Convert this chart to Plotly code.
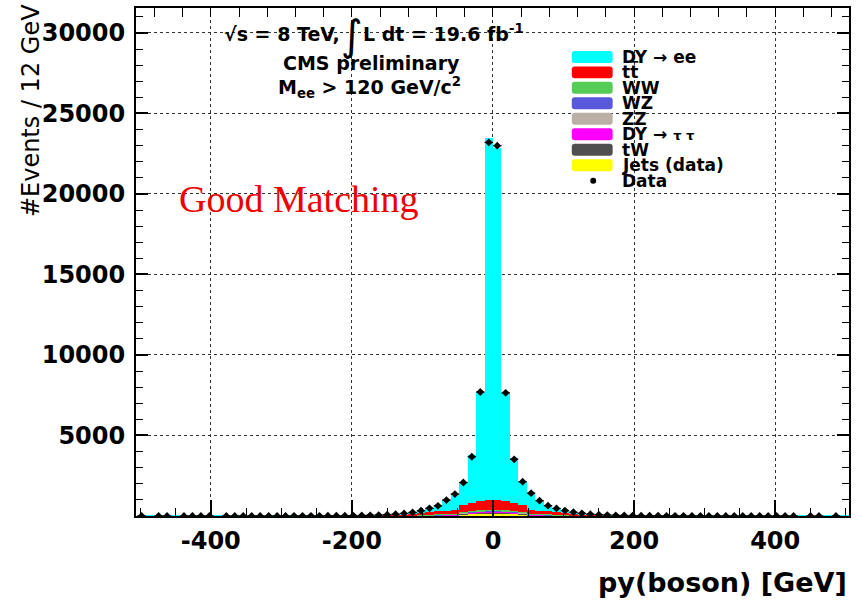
import plotly.graph_objects as go

# ---------------- data (12 GeV bins from -504 to 504) ----------------
BIN_START = -504
BIN_WIDTH = 12

DATA = [2, 0, 3, 2, 0, 3, 2, 4, 3, 0, 4, 3,
        5, 4, 5, 6, 5, 7, 8, 9, 11, 13,
        15, 18, 22, 27, 34, 44, 58, 80, 110, 160,
        225, 330, 475, 630, 990, 1360, 2080, 3680, 7700, 23200,
        23000, 7650, 3520, 2130, 1420, 950, 640, 470, 340, 235,
        165, 115, 82, 60, 45, 35, 27, 22, 18, 15,
        12, 10, 9, 8, 7, 6, 5, 5, 4, 4,
        3, 4, 3, 2, 3, 2, 0, 3, 2, 0, 2, 0]

DY_EE = [1, 1, 2, 2, 2, 2, 2, 3, 3, 2, 3, 3,
         4, 3, 4, 4, 3, 4, 5, 5, 6, 7,
         6, 7, 7, 6, 6, 5, 10, 17, 30, 55,
         73, 124, 221, 352, 661, 978, 1418, 2956, 6755, 22433,
         21830, 6705, 2776, 1468, 1018, 621, 342, 211, 129, 80,
         60, 33, 19, 12, 6, 7, 6, 7, 7, 6,
         6, 5, 5, 5, 4, 4, 3, 4, 3, 3,
         3, 3, 3, 2, 2, 2, 2, 2, 1, 1, 1, 1]

TTBAR = [0, 0, 0, 0, 0, 0, 0, 0, 0, 0, 0, 0,
         1, 1, 1, 2, 2, 3, 3, 4, 5, 6,
         8, 10, 12, 16, 20, 26, 33, 42, 55, 70,
         110, 150, 180, 200, 220, 260, 430, 520, 600, 650,
         650, 600, 520, 430, 260, 220, 200, 180, 150, 110,
         70, 55, 42, 33, 26, 20, 16, 12, 10, 8,
         6, 5, 4, 3, 3, 2, 2, 1, 1, 1,
         0, 0, 0, 0, 0, 0, 0, 0, 0, 0, 0, 0]

WW = [0, 0, 0, 0, 0, 0, 0, 0, 0, 0, 0, 0,
      0, 0, 0, 0, 0, 0, 0, 0, 0, 0,
      1, 1, 2, 2, 3, 4, 5, 6, 8, 10,
      13, 17, 21, 25, 30, 35, 40, 44, 48, 50,
      50, 48, 44, 40, 35, 30, 25, 21, 17, 13,
      10, 8, 6, 5, 4, 3, 2, 2, 1, 1,
      0, 0, 0, 0, 0, 0, 0, 0, 0, 0,
      0, 0, 0, 0, 0, 0, 0, 0, 0, 0, 0, 0]

WZ = [0, 0, 0, 0, 0, 0, 0, 0, 0, 0, 0, 0,
      0, 0, 0, 0, 0, 0, 0, 0, 0, 0,
      0, 0, 0, 1, 1, 2, 2, 3, 4, 5,
      6, 8, 10, 12, 14, 16, 18, 21, 23, 25,
      25, 23, 21, 18, 16, 14, 12, 10, 8, 6,
      5, 4, 3, 2, 2, 1, 1, 0, 0, 0,
      0, 0, 0, 0, 0, 0, 0, 0, 0, 0,
      0, 0, 0, 0, 0, 0, 0, 0, 0, 0, 0, 0]

ZZ = [0, 0, 0, 0, 0, 0, 0, 0, 0, 0, 0, 0,
      0, 0, 0, 0, 0, 0, 0, 0, 0, 0,
      0, 0, 0, 0, 0, 1, 1, 2, 2, 3,
      3, 4, 5, 6, 7, 8, 9, 10, 11, 12,
      12, 11, 10, 9, 8, 7, 6, 5, 4, 3,
      3, 2, 2, 1, 1, 0, 0, 0, 0, 0,
      0, 0, 0, 0, 0, 0, 0, 0, 0, 0,
      0, 0, 0, 0, 0, 0, 0, 0, 0, 0, 0, 0]

DY_TAUTAU = [0, 0, 0, 0, 0, 0, 0, 0, 0, 0, 0, 0,
             0, 0, 0, 0, 0, 0, 0, 0, 0, 0,
             0, 0, 0, 0, 1, 2, 2, 3, 4, 6,
             8, 11, 14, 18, 22, 28, 35, 45, 55, 60,
             60, 55, 45, 35, 28, 22, 18, 14, 11, 8,
             6, 4, 3, 2, 2, 1, 0, 0, 0, 0,
             0, 0, 0, 0, 0, 0, 0, 0, 0, 0,
             0, 0, 0, 0, 0, 0, 0, 0, 0, 0, 0, 0]

TW = [0, 0, 0, 0, 0, 0, 0, 0, 0, 0, 0, 0,
      0, 0, 0, 0, 0, 0, 0, 0, 0, 0,
      0, 0, 1, 1, 2, 2, 3, 4, 5, 6,
      8, 11, 14, 17, 21, 25, 30, 34, 38, 40,
      40, 38, 34, 30, 25, 21, 17, 14, 11, 8,
      6, 5, 4, 3, 2, 2, 1, 1, 0, 0,
      0, 0, 0, 0, 0, 0, 0, 0, 0, 0,
      0, 0, 0, 0, 0, 0, 0, 0, 0, 0, 0, 0]

JETS = [0, 0, 0, 0, 0, 0, 0, 0, 0, 0, 0, 0,
        0, 0, 0, 0, 0, 0, 0, 0, 0, 0,
        0, 0, 0, 1, 1, 2, 2, 3, 4, 5,
        7, 10, 15, 20, 25, 30, 120, 150, 170, 180,
        180, 170, 150, 120, 30, 25, 20, 15, 10, 7,
        5, 4, 3, 2, 2, 1, 1, 0, 0, 0,
        0, 0, 0, 0, 0, 0, 0, 0, 0, 0,
        0, 0, 0, 0, 0, 0, 0, 0, 0, 0, 0, 0]

LEGEND_NAMES = ["DY \u2192 ee", "t<span style='text-decoration:overline'>t</span>",
                "WW", "WZ", "ZZ",
                "DY \u2192 <span style='font-size:13px'>\u03c4 \u03c4</span>",
                "tW", "Jets (data)"]
LEGEND_COLORS = ["#00FFFF", "#FF0000", "#55CC55", "#5858DA", "#BBB0A6",
                 "#FF00FF", "#4F4F4F", "#FFFF00"]
# stack, bottom to top
STACK = [("Jets (data)", JETS, "#FFFF00"),
         ("tW", TW, "#4F4F4F"),
         ("DY \u2192 \u03c4\u03c4", DY_TAUTAU, "#FF00FF"),
         ("ZZ", ZZ, "#BBB0A6"),
         ("WZ", WZ, "#5858DA"),
         ("WW", WW, "#55CC55"),
         ("tt\u0304", TTBAR, "#FF0000"),
         ("DY \u2192 ee", DY_EE, "#00FFFF")]

X_TICKS = [-400, -200, 0, 200, 400]
X_TICKTEXT = ["-400", "-200", "0", "200", "400"]
Y_TICKS = [5000, 10000, 15000, 20000, 25000, 30000]
Y_TICKTEXT = ["5000", "10000", "15000", "20000", "25000", "30000"]

centers = [BIN_START + BIN_WIDTH * (i + 0.5) for i in range(len(DATA))]

# ---------------- figure ----------------
W, H = 857, 606
L, R, T, B = 136, 851, 7, 516


def px(x):
    return (x - L) / (R - L)


def py(y):
    return (B - y) / (B - T)


fig = go.Figure()
for name, vals, col in STACK:
    fig.add_trace(go.Bar(x=centers, y=vals, width=BIN_WIDTH, name=name,
                         marker=dict(color=col, line=dict(width=0)),
                         showlegend=False))

fig.add_trace(go.Scatter(
    x=centers, y=[v if v > 0 else None for v in DATA], mode="markers",
    name="Data", showlegend=False,
    marker=dict(symbol="diamond", size=6, color="black"),
    error_x=dict(type="constant", value=BIN_WIDTH / 2, width=0,
                 thickness=1.2, color="black")))

FONT = "DejaVu Sans"
tickfont = dict(family=FONT, size=24, color="black", weight="bold")

fig.update_layout(
    width=W, height=H,
    margin=dict(l=L, r=W - R, t=T, b=H - B, pad=0),
    paper_bgcolor="white", plot_bgcolor="white",
    barmode="stack", bargap=0,
    xaxis=dict(range=[-506, 504.6], tickvals=X_TICKS, ticktext=X_TICKTEXT,
               ticks="inside", ticklen=16, tickwidth=1.5, tickcolor="black",
               tickfont=tickfont, ticklabelstandoff=2,
               minor=dict(tickmode="linear", tick0=0, dtick=50, ticks="inside",
                          ticklen=8, tickwidth=1, tickcolor="black", showgrid=False),
               showline=True, linewidth=2, linecolor="black", mirror=True,
               showgrid=True, gridcolor="#333333", griddash="dot", gridwidth=1,
               zeroline=False),
    xaxis2=dict(range=[-506, 504.6], overlaying="x", side="top",
                tickmode="linear", tick0=0, dtick=40, ticks="inside", ticklen=9,
                tickwidth=1, tickcolor="black", showticklabels=False,
                showgrid=False, showline=False, zeroline=False),
    yaxis=dict(range=[0, 31550], tickvals=Y_TICKS, ticktext=Y_TICKTEXT,
               ticks="inside", ticklen=12, tickwidth=1.5, tickcolor="black",
               tickfont=tickfont, ticklabelstandoff=4,
               minor=dict(tickmode="linear", tick0=0, dtick=1000, ticks="inside",
                          ticklen=7, tickwidth=1, tickcolor="black", showgrid=False),
               showline=True, linewidth=2, linecolor="black", mirror="ticks",
               showgrid=True, gridcolor="#333333", griddash="dot", gridwidth=1,
               zeroline=False),
)

# invisible helper trace so the top tick axis is drawn
fig.add_trace(go.Scatter(x=[None], y=[None], xaxis="x2", yaxis="y",
                         showlegend=False, hoverinfo="skip"))

ann = []
txt = dict(family=FONT, size=19, color="black", weight="bold")
ann.append(dict(text="\u221as = 8 TeV,", x=px(343), y=py(33), xanchor="right",
                yanchor="middle", font=txt))
ann.append(dict(text="\u222b", x=px(353), y=py(35), xanchor="center",
                yanchor="middle", font=dict(family=FONT, size=42, color="black")))
ann.append(dict(text="L dt = 19.6 fb<sup>-1</sup>", x=px(362), y=py(32),
                xanchor="left", yanchor="middle", font=txt))
ann.append(dict(text="CMS preliminary", x=px(372), y=py(62), xanchor="center",
                yanchor="middle", font=txt))
ann.append(dict(text="M<sub>ee</sub> > 120 GeV/c<sup>2</sup>", x=px(370), y=py(87),
                xanchor="center", yanchor="middle", font=txt))
ann.append(dict(text="Good Matching", x=px(177), y=py(198), xanchor="left",
                yanchor="middle",
                font=dict(family="Liberation Serif", size=38, color="#EE0000")))
ann.append(dict(text="#Events / 12 GeV", x=px(31), y=py(110), textangle=-90,
                xanchor="center", yanchor="middle",
                font=dict(family=FONT, size=24, color="black")))
ann.append(dict(text="py(boson) [GeV]", x=px(851), y=py(583), xanchor="right",
                yanchor="middle",
                font=dict(family=FONT, size=27, color="black", weight="bold")))

# legend (drawn manually to match the wide rounded swatches)
shapes = []
row_y = [56, 71.5, 87, 102.5, 118, 133.5, 149, 164.5, 180]
lfont = dict(family=FONT, size=17, color="black", weight="bold")
sx0, sx1 = 573, 614
for i, (nm, col) in enumerate(zip(LEGEND_NAMES, LEGEND_COLORS)):
    yc = row_y[i]
    y0, y1 = yc - 6, yc + 6
    r = 3
    path = (f"M {px(sx0 + r)},{py(y0)} L {px(sx1 - r)},{py(y0)} "
            f"Q {px(sx1)},{py(y0)} {px(sx1)},{py(y0 + r)} "
            f"L {px(sx1)},{py(y1 - r)} Q {px(sx1)},{py(y1)} {px(sx1 - r)},{py(y1)} "
            f"L {px(sx0 + r)},{py(y1)} Q {px(sx0)},{py(y1)} {px(sx0)},{py(y1 - r)} "
            f"L {px(sx0)},{py(y0 + r)} Q {px(sx0)},{py(y0)} {px(sx0 + r)},{py(y0)} Z")
    shapes.append(dict(type="path", xref="paper", yref="paper", path=path,
                       fillcolor=col, line=dict(width=0)))
    ann.append(dict(text=nm, x=px(621), y=py(yc), xanchor="left", yanchor="middle",
                    font=lfont))
# data entry
yc = row_y[8]
shapes.append(dict(type="circle", xref="paper", yref="paper",
                   x0=px(591.5), x1=px(597.5), y0=py(yc + 3), y1=py(yc - 3),
                   fillcolor="black", line=dict(width=0)))
ann.append(dict(text="Data", x=px(621), y=py(yc), xanchor="left", yanchor="middle",
                font=lfont))

for a in ann:
    a.update(xref="paper", yref="paper", showarrow=False)

fig.update_layout(annotations=ann, shapes=shapes)

fig.write_html("out.html")
